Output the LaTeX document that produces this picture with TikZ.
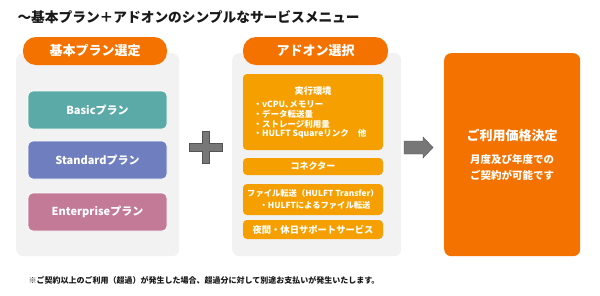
\documentclass[tikz,border=0pt]{standalone}
\usepackage{fontspec}
\setmainfont{Noto Sans CJK JP}
\usepackage{xcolor}
\usetikzlibrary{positioning}

\definecolor{hdorange}{HTML}{F47200}
\definecolor{amber}{HTML}{F5A000}
\definecolor{panelgray}{HTML}{F2F2F2}
\definecolor{planteal}{HTML}{5BAAA7}
\definecolor{planblue}{HTML}{6E7EBF}
\definecolor{planpink}{HTML}{C27A97}
\definecolor{markgray}{HTML}{777777}

\begin{document}
\begin{tikzpicture}[x=1pt, y=-1pt,
  panel/.style={fill=panelgray, rounded corners=7pt, anchor=north west, minimum height=203pt},
  pill/.style={fill=hdorange, rounded corners=13pt, text=white, minimum height=28pt,
    font=\bfseries\fontsize{13}{15}\selectfont},
  plan/.style={rounded corners=5pt, draw=white, line width=0.6pt, text=white,
    minimum width=139pt, minimum height=38pt, font=\bfseries\fontsize{11}{13}\selectfont},
  addon/.style={fill=amber, rounded corners=4pt, text=white, minimum width=140pt,
    font=\bfseries\fontsize{9}{11}\selectfont},
  small/.style={font=\bfseries\fontsize{8.5}{10}\selectfont, text=white, anchor=west},
  graymark/.style={fill=markgray, draw=markgray!70!black, line width=0.4pt}]
  \def\fs#1{\fontsize{#1}{#1}\selectfont}
  \useasboundingbox (0,0) rectangle (600,295);

  \node[anchor=west, font=\bfseries\fs{13.7}, text=black!90] (title) at (14,17)
    {～基本プラン＋アドオンのシンプルなサービスメニュー};

  % base plan
  \node[panel, minimum width=163pt] (basepanel) at (16,53) {};
  \node[pill, minimum width=144pt] (basehead) at (95,51) {基本プラン選定};
  \node[plan, fill=planteal] (basic) at (97.5,110) {Basicプラン};
  \node[plan, fill=planblue] (standard) at (97.5,160) {Standardプラン};
  \node[plan, fill=planpink] (enterprise) at (97.5,212) {Enterpriseプラン};

  % plus mark
  \draw[graymark]
    (189,143) -- (202,143) -- (202,131) -- (209,131) -- (209,143) -- (222,143)
    -- (222,151) -- (209,151) -- (209,163) -- (202,163) -- (202,151) -- (189,151) -- cycle;

  % add-ons
  \node[panel, minimum width=169pt] (addonpanel) at (232,53) {};
  \node[pill, minimum width=145pt] (addonhead) at (315.5,51) {アドオン選択};
  \node[addon, minimum height=76pt] (runtime) at (313,112) {};
  \node[font=\bfseries\fs{9.2}, text=white] (runtimetitle) at (313,91) {実行環境};
  \node[small] (item1) at (250,104) {・vCPU､メモリー};
  \node[small] (item2) at (250,114) {・データ転送量};
  \node[small] (item3) at (250,124) {・ストレージ利用量};
  \node[small] (item4) at (250,134) {・HULFT Squareリンク\hspace{9pt}他};
  \node[addon, minimum height=17pt] (connector) at (313,166.5) {コネクター};
  \node[addon, minimum height=31pt, align=center, inner sep=1pt, font=\bfseries\fs{8.3}]
    (transfer) at (313,199.5)
    {ファイル転送（HULFT Transfer）\\[3pt]
     \hspace{4pt}・HULFTによるファイル転送};
  \node[addon, minimum height=19pt, font=\bfseries\fs{9.3}] (support) at (313,229.5)
    {夜間・休日サポートサービス};

  % result
  \node[fill=hdorange, rounded corners=7pt, anchor=north west, minimum width=136pt,
    minimum height=203pt] (result) at (444,53) {};
  \draw[graymark] (404,141) -- (423,141) -- (423,137) -- (433,147.5) -- (423,158)
    -- (423,154) -- (404,154) -- cycle;
  \node[font=\bfseries\fs{13}, text=white] (resulttitle) at (512,135) {ご利用価格決定};
  \node[font=\bfseries\fs{10.5}, text=white, align=center] (resultnote) at (512,167.5)
    {月度及び年度での\\[5pt]ご契約が可能です};

  \node[anchor=west, font=\bfseries\fs{8}, text=black!90] (footnote) at (25,280)
    {※ご契約以上のご利用（超過）が発生した場合、超過分に対して別途お支払いが発生いたします。};
\end{tikzpicture}
\end{document}
